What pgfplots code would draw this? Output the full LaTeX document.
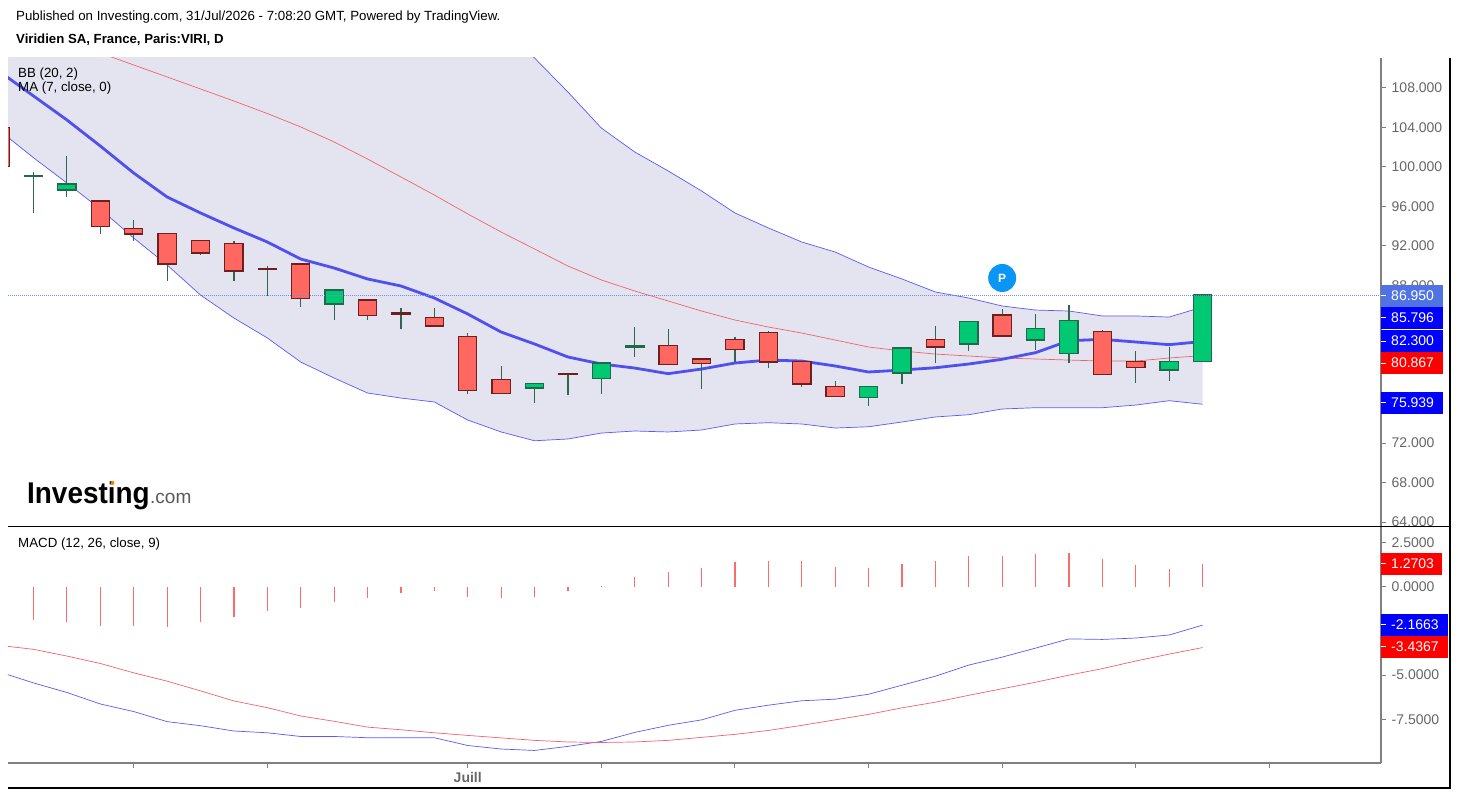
\documentclass[border=0pt]{standalone}
\usepackage{pgfplots}
\pgfplotsset{compat=1.18}
\usepackage{pgfplotstable}
\usepgfplotslibrary{fillbetween}
\usepackage{fontspec}
\setmainfont{Liberation Sans}
\definecolor{bandfill}{HTML}{E4E4F0}
\definecolor{bbblue}{HTML}{5A5AF5}
\definecolor{mablue}{HTML}{5050EE}
\definecolor{midred}{HTML}{F0636E}
\definecolor{cred}{HTML}{FF6860}
\definecolor{cgreen}{HTML}{00C873}
\definecolor{redb}{HTML}{6E2020}
\definecolor{greenb}{HTML}{1F6A4A}
\definecolor{wick}{HTML}{2F6650}
\definecolor{axisgray}{HTML}{808080}
\definecolor{ticktext}{HTML}{666666}
\definecolor{lastblue}{HTML}{4F73E3}
\definecolor{dotblue}{HTML}{6C8EF0}
\definecolor{tagblue}{HTML}{0000FF}
\definecolor{tagred}{HTML}{FF0000}
\definecolor{histred}{HTML}{FF6A6A}
\definecolor{pblue}{HTML}{0A96F5}
\pgfplotstableread{
i up mid lo ma
-1 126.76 115.20 103.64 109.62
0 127.06 113.98 100.93 107.19
1 127.16 112.76 98.37 104.76
2 127.36 111.55 95.73 102.12
3 127.87 110.33 92.79 99.38
4 128.17 109.12 90.06 96.95
5 128.78 107.90 87.01 95.33
6 128.68 106.68 84.68 93.81
7 128.17 105.41 82.66 92.39
8 127.87 104.05 80.22 90.66
9 126.45 102.53 78.60 89.75
10 124.52 100.80 77.08 88.64
11 121.38 98.98 76.57 87.93
12 118.14 97.15 76.17 86.71
13 116.11 95.23 74.34 85.09
14 113.68 93.40 73.13 83.26
15 111.04 91.68 72.24 82.05
16 107.59 89.95 72.42 80.73
17 103.94 88.54 73.02 80.02
18 101.51 87.42 73.23 79.61
19 99.59 86.41 73.13 79.04
20 97.56 85.39 73.33 79.51
21 95.33 84.48 73.94 80.12
22 93.81 83.77 74.07 80.42
23 92.39 83.16 73.94 80.32
24 91.37 82.45 73.53 79.82
25 89.85 81.74 73.66 79.21
26 88.64 81.34 74.14 79.41
27 87.32 81.03 74.65 79.64
28 86.71 80.83 74.88 80.02
29 85.90 80.63 75.46 80.50
30 85.49 80.53 75.59 81.17
31 85.39 80.42 75.59 82.38
32 84.89 80.32 75.59 82.52
33 84.89 80.32 75.86 82.25
34 84.78 80.63 76.30 81.98
35 85.80 80.87 75.94 82.30
}\bbtable
\pgfplotstableread{
i macd signal hist
-1 -4.83 -3.32 -1.50
0 -5.44 -3.54 -1.88
1 -5.98 -3.92 -1.97
2 -6.63 -4.34 -2.20
3 -7.06 -4.87 -2.20
4 -7.63 -5.34 -2.26
5 -7.86 -5.89 -1.97
6 -8.16 -6.46 -1.72
7 -8.26 -6.84 -1.35
8 -8.47 -7.31 -1.18
9 -8.47 -7.61 -0.87
10 -8.54 -7.94 -0.63
11 -8.54 -8.09 -0.38
12 -8.54 -8.26 -0.24
13 -8.98 -8.41 -0.57
14 -9.18 -8.55 -0.63
15 -9.26 -8.69 -0.57
16 -9.03 -8.78 -0.23
17 -8.75 -8.81 0.06
18 -8.24 -8.78 0.57
19 -7.84 -8.69 0.85
20 -7.53 -8.52 1.08
21 -6.99 -8.35 1.42
22 -6.70 -8.13 1.48
23 -6.45 -7.84 1.45
24 -6.36 -7.53 1.14
25 -6.08 -7.22 1.08
26 -5.57 -6.85 1.31
27 -5.06 -6.53 1.48
28 -4.43 -6.14 1.76
29 -3.98 -5.77 1.76
30 -3.47 -5.40 1.88
31 -2.95 -5.00 1.93
32 -2.98 -4.63 1.59
33 -2.90 -4.20 1.25
34 -2.73 -3.81 1.02
35 -2.17 -3.44 1.27
}\macdtable
% falling candles: position, body top, body bottom, high, low
\pgfplotstableread{
i top bot high low
-1 103.91 100.09 103.91 100.09
2 96.47 94.01 96.68 93.23
3 93.71 93.27 94.62 92.52
4 93.17 90.23 93.17 88.46
5 92.46 91.34 92.52 91.10
6 92.18 89.52 92.49 88.46
7 89.65 89.65 89.99 86.94
8 90.09 86.71 90.16 85.83
10 86.44 85.02 86.44 84.45
11 85.16 85.16 85.67 83.60
12 84.65 83.94 85.67 83.74
13 82.73 77.38 83.13 77.01
14 78.37 77.11 79.82 77.01
16 79.01 79.01 79.11 76.91
19 81.84 80.02 83.57 79.95
20 80.46 80.15 80.46 77.45
21 82.42 81.54 82.76 80.22
22 83.13 80.29 83.33 79.64
23 80.19 78.06 80.19 77.72
24 77.69 76.78 78.27 76.70
27 82.42 81.81 83.87 80.09
29 84.92 82.93 85.56 82.93
32 83.23 79.04 83.44 79.04
33 80.19 79.75 81.34 78.12
}\redtable
% rising candles
\pgfplotstableread{
i top bot high low
0 99.08 99.08 99.45 95.30
1 98.20 97.73 101.14 96.98
9 87.45 86.17 87.52 84.45
15 77.96 77.66 78.06 76.07
17 80.05 78.63 80.05 77.01
18 81.81 81.81 83.74 80.76
25 77.69 76.67 77.76 75.79
26 81.57 79.18 81.57 78.02
28 84.25 82.12 84.41 81.37
30 83.54 82.52 85.12 81.47
31 84.35 81.17 85.97 80.09
34 80.19 79.48 81.77 78.33
35 86.95 80.32 86.95 80.32
}\greentable
% draws one group of candles: table, border colour, body colour
\newcommand{\candles}[3]{%
  \addplot[draw=none,forget plot,error bars/.cd,y dir=plus,y explicit,error mark=none,
     error bar style={draw=wick,line width=1.2pt}]
     table[x=i,y=low,y error plus expr=\thisrow{high}-\thisrow{low}]{#1};
  \addplot[draw=none,forget plot,error bars/.cd,y dir=plus,y explicit,error mark=none,
     error bar style={draw=#2,line width=19.5pt}]
     table[x=i,y expr=\thisrow{bot}-0.14,y error plus expr=\thisrow{top}-\thisrow{bot}+0.28]{#1};
  \addplot[draw=none,forget plot,error bars/.cd,y dir=plus,y explicit,error mark=none,
     error bar style={draw=#3,line width=17pt}]
     table[x=i,y=bot,y error plus expr=\thisrow{top}-\thisrow{bot}]{#1};
}
% value tag at the right: colour, top px, bottom px, right px, text
\newcommand{\vtag}[5]{\fill[#1] (1381pt,{794pt-#2pt}) rectangle (#4pt,{794pt-#3pt});
  \draw[white,line width=1pt] (1381pt,{794pt-0.5*#2pt-0.5*#3pt}) -- (1386pt,{794pt-0.5*#2pt-0.5*#3pt});
  \node[anchor=west,inner sep=0pt,text=white,font=\fontsize{14}{16}\selectfont] at (1391pt,{794pt-0.5*#2pt-0.5*#3pt}) {#5};}
\pgfplotsset{panel/.style={
  scale only axis,width=1373pt,anchor=south west,
  xmin=-0.763,xmax=40.34,clip=true,
  axis line style={draw=axisgray,line width=1.5pt},
  tick style={draw=axisgray,line width=1pt},
  major tick length=5pt,tick align=outside,
  yticklabel style={anchor=west,inner sep=0pt,xshift=5.5pt,text=ticktext,font=\fontsize{14}{16}\selectfont,
    /pgf/number format/assume math mode=true,/pgf/number format/1000 sep={}},
}}
\begin{document}
\begin{tikzpicture}
\path (0pt,0pt) rectangle (1458pt,794pt);
% header
\node[anchor=base west,inner sep=0pt,font=\fontsize{13.3}{15}\selectfont] at (16pt,{794pt-21pt}) {Published on Investing.com, 31/Jul/2026 - 7:08:20 GMT, Powered by TradingView.};
\node[anchor=base west,inner sep=0pt,font=\fontsize{13.2}{15}\selectfont\bfseries] at (16pt,{794pt-44pt}) {Viridien SA, France, Paris:VIRI, D};
% price panel
\begin{axis}[panel,at={(8pt,268pt)},height=468pt,
  ymin=63.6,ymax=111.04,
  axis y line*=right,axis x line=none,
  ytick={64,68,72,76,80,84,88,92,96,100,104,108},
  yticklabels={64.000,68.000,72.000,,,,88.000,92.000,96.000,100.000,104.000,108.000},
]
\addplot[name path=upper,bbblue,line width=0.7pt] table[x=i,y=up]{\bbtable};
\addplot[name path=lower,bbblue,line width=0.7pt] table[x=i,y=lo]{\bbtable};
\addplot[bandfill] fill between[of=upper and lower];
\addplot[midred,line width=0.7pt] table[x=i,y=mid]{\bbtable};
\addplot[mablue,line width=2.8pt] table[x=i,y=ma]{\bbtable};
\candles{\redtable}{redb}{cred}
\candles{\greentable}{greenb}{cgreen}
\addplot[dotblue,line width=1pt,dash pattern=on 1pt off 1pt] coordinates {(-0.763,86.95)(40.34,86.95)};
\node[circle,fill=pblue,minimum size=28pt,inner sep=0pt,text=white,font=\fontsize{12}{14}\selectfont\bfseries] at (axis cs:29,88.74) {P};
\end{axis}
% MACD panel
\begin{axis}[panel,at={(8pt,31pt)},height=236pt,
  ymin=-9.97,ymax=3.38,
  axis y line*=right,axis x line*=bottom,
  ytick={-7.5,-5,-2.5,0,2.5},
  yticklabels={-7.5000,-5.0000,,0.0000,2.5000},
  xtick={3,7,13,17,21,25,29,33,37},
  xticklabels={,,Juill,,,,,,},
  xticklabel style={text=ticktext,font=\fontsize{14}{16}\selectfont\bfseries,inner sep=0pt,yshift=-4pt},
]
\addplot[bbblue,line width=0.7pt] table[x=i,y=macd]{\macdtable};
\addplot[midred,line width=0.7pt] table[x=i,y=signal]{\macdtable};
\addplot[ycomb,histred,line width=1.2pt,mark=none] table[x=i,y=hist]{\macdtable};
\end{axis}
% separators
\draw[black,line width=1.5pt] (8pt,{794pt-526.5pt}) -- (1450pt,{794pt-526.5pt});
\draw[black,line width=1.2pt] (8pt,{794pt-788pt}) -- (1450.6pt,{794pt-788pt});
\draw[black,line width=1.2pt] (1450pt,{794pt-58pt}) -- (1450pt,{794pt-788pt});
% value tags
\vtag{lastblue}{285}{306.7}{1443}{86.950}
\vtag{tagblue}{306.7}{329}{1443}{85.796}
\vtag{tagblue}{330}{352.3}{1443}{82.300}
\vtag{tagred}{352.3}{374}{1443}{80.867}
\vtag{tagblue}{392}{414}{1443}{75.939}
\vtag{tagred}{552.7}{574.7}{1442}{1.2703}
\vtag{tagblue}{614}{636}{1448}{-2.1663}
\vtag{tagred}{636}{658}{1448}{-3.4367}
% indicator captions
\node[anchor=base west,inner sep=0pt,font=\fontsize{13.3}{15}\selectfont] at (18pt,{794pt-78pt}) {BB (20, 2)};
\node[anchor=base west,inner sep=0pt,font=\fontsize{13.3}{15}\selectfont] at (18pt,{794pt-92pt}) {MA (7, close, 0)};
\node[anchor=base west,inner sep=0pt,font=\fontsize{13.3}{15}\selectfont] at (18pt,{794pt-548pt}) {MACD (12, 26, close, 9)};
% logo
\node[anchor=base west,inner sep=0pt,xscale=0.93,font=\fontsize{30}{32}\selectfont\bfseries] at (27pt,{794pt-504pt}) {Investing};
\node[anchor=base west,inner sep=0pt,text=black!65,font=\fontsize{19}{21}\selectfont] at (150pt,{794pt-504pt}) {.com};
\fill[orange] (112.5pt,{794pt-483pt}) circle (2pt);
\end{tikzpicture}
\end{document}
